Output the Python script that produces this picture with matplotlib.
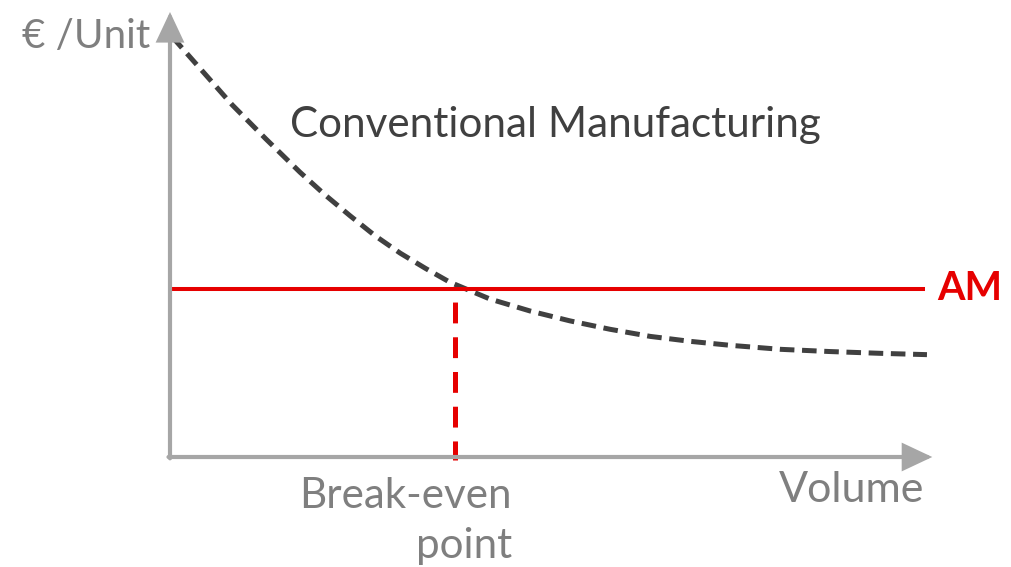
import matplotlib
matplotlib.use("Agg")
import matplotlib.pyplot as plt

plt.rcParams['font.family'] = ['Lato', 'DejaVu Sans']
plt.rcParams['lines.scale_dashes'] = False

# values (volume 0-100, cost per unit 0-100)
volume = [0.3, 8.2, 12.6, 17.1, 20.4, 23.7, 27.0, 30.3, 33.6, 36.8, 42.1, 47.4,
          52.6, 57.9, 63.2, 68.4, 73.7, 80.3, 86.8, 93.4, 99.6]
conventional_cost = [94.4, 79.1, 71.5, 64.0, 58.9, 54.2, 49.7, 45.8, 42.4, 39.3, 35.5, 32.8,
                     30.6, 28.7, 27.1, 26.0, 25.1, 24.2, 23.7, 23.3, 23.0]
am_cost = 37.8
am_range = [0.3, 99.3]
break_even_volume = 37.5

axis_grey = '#A6A6A6'
text_grey = '#7F7F7F'
curve_grey = '#404040'
red = '#E60000'

fig = plt.figure(figsize=(10.11, 5.67), dpi=100)
ax = fig.add_axes([170 / 1011, 110 / 567, 760 / 1011, 445 / 567])
ax.set_xlim(0, 100)
ax.set_ylim(0, 100)
ax.axis('off')

# axes with arrow heads
arrow = dict(arrowstyle='-|>,head_length=0.85,head_width=0.4', color=axis_grey,
             lw=3, shrinkA=0, shrinkB=0, mutation_scale=20, joinstyle='miter')
ax.annotate('', xy=(0, 100), xytext=(0, -0.3), arrowprops=arrow, annotation_clip=False)
ax.annotate('', xy=(100.3, 0), xytext=(-0.2, 0), arrowprops=arrow, annotation_clip=False)

# conventional manufacturing cost curve
ax.plot(volume, conventional_cost, color=curve_grey, lw=3.6, dashes=(10.5, 5.5),
        dash_capstyle='butt', solid_joinstyle='round', clip_on=False)

# AM cost level
ax.plot(am_range, [am_cost, am_cost], color=red, lw=2.9, solid_capstyle='butt', clip_on=False)

# break-even marker
ax.plot([break_even_volume, break_even_volume], [am_cost, -0.7], color=red, lw=3.6,
        linestyle=(15.6, (15, 10)), dash_capstyle='butt', clip_on=False)

ax.text(-2.6, 91.9, '€ /Unit', ha='right', va='baseline', fontsize=29, color=text_grey)
ax.text(50.7, 71.9, 'Conventional Manufacturing', ha='center', va='baseline',
        fontsize=30.4, color=curve_grey)
ax.text(100.9, 35.3, 'AM', ha='left', va='baseline', fontsize=28.5, fontweight='bold', color=red)
ax.text(99.3, -10.1, 'Volume', ha='right', va='baseline', fontsize=31, color=text_grey)
ax.text(45.0, -11.5, 'Break-even', ha='right', va='baseline', fontsize=30.3, color=text_grey)
ax.text(45.0, -22.7, 'point', ha='right', va='baseline', fontsize=30.3, color=text_grey)

fig.savefig('out.png', dpi=100)
